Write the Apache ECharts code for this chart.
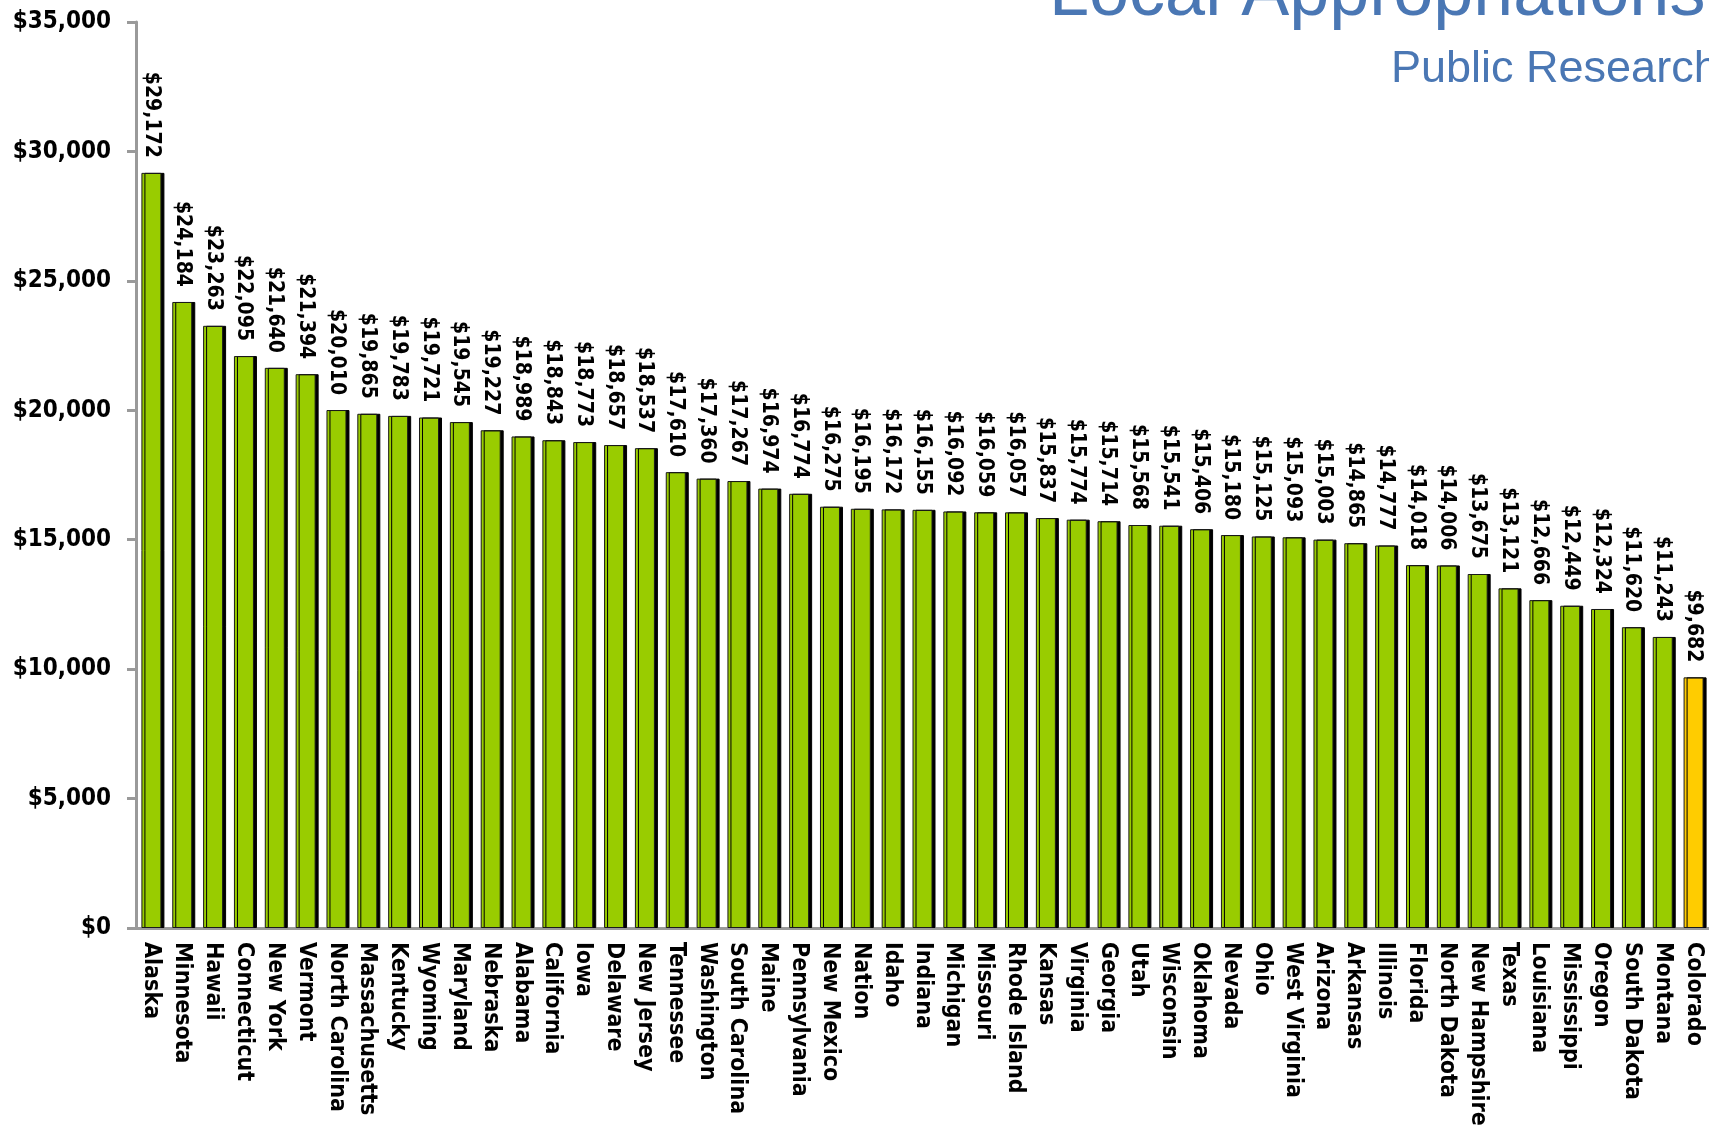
<!DOCTYPE html>
<html>
<head>
<meta charset="utf-8">
<script src="https://cdn.jsdelivr.net/npm/echarts@6/dist/echarts.min.js"></script>
<style>
  html, body { margin: 0; padding: 0; background: #fff; }
  #chart { width: 1709px; height: 1129px; }
</style>
</head>
<body>
<div id="chart"></div>
<script>
const states = ['Alaska', 'Minnesota', 'Hawaii', 'Connecticut', 'New York', 'Vermont', 'North Carolina',
  'Massachusetts', 'Kentucky', 'Wyoming', 'Maryland', 'Nebraska', 'Alabama', 'California', 'Iowa',
  'Delaware', 'New Jersey', 'Tennessee', 'Washington', 'South Carolina', 'Maine', 'Pennsylvania',
  'New Mexico', 'Nation', 'Idaho', 'Indiana', 'Michigan', 'Missouri', 'Rhode Island', 'Kansas',
  'Virginia', 'Georgia', 'Utah', 'Wisconsin', 'Oklahoma', 'Nevada', 'Ohio', 'West Virginia',
  'Arizona', 'Arkansas', 'Illinois', 'Florida', 'North Dakota', 'New Hampshire', 'Texas',
  'Louisiana', 'Mississippi', 'Oregon', 'South Dakota', 'Montana', 'Colorado']
const values = [29172, 24184, 23263, 22095, 21640, 21394, 20010,
  19865, 19783, 19721, 19545, 19227, 18989, 18843, 18773,
  18657, 18537, 17610, 17360, 17267, 16974, 16774,
  16275, 16195, 16172, 16155, 16092, 16059, 16057, 15837,
  15774, 15714, 15568, 15541, 15406, 15180, 15125, 15093,
  15003, 14865, 14777, 14018, 14006, 13675, 13121,
  12666, 12449, 12324, 11620, 11243, 9682]
const highlight = 'Colorado'

const green = '#99cc00'
const yellow = '#ffcc00'
const axisGray = '#9a9a9a'
const labelFont = "'DejaVu Sans Condensed', 'DejaVu Sans', sans-serif"

const money = v => '$' + v.toLocaleString('en-US')

let myChart = echarts.init(document.getElementById('chart'))
let option = {
  animation: false,
  title: [
    {
      text: 'Local Appropriations',
      left: 1044,
      top: -46,
      textStyle: { color: '#4a77b4', fontSize: 72, fontWeight: 'normal', fontFamily: "'Liberation Sans', sans-serif" }
    },
    {
      text: 'Public Research',
      left: 1386,
      top: 42,
      textStyle: { color: '#4a77b4', fontSize: 45, fontWeight: 'normal', fontFamily: "'Liberation Sans', sans-serif" }
    }
  ],
  grid: { left: 136, right: 0, top: 22, bottom: 201, containLabel: false },
  xAxis: {
    type: 'category',
    data: states,
    axisLine: { lineStyle: { color: axisGray, width: 3 } },
    axisTick: { length: 9, lineStyle: { color: axisGray, width: 3 } },
    axisLabel: {
      interval: 0,
      rotate: -90,
      margin: 14,
      color: '#000',
      fontSize: 23,
      fontWeight: 'bold',
      fontFamily: labelFont
    }
  },
  yAxis: {
    type: 'value',
    min: 0,
    max: 35000,
    interval: 5000,
    splitLine: { show: false },
    axisLine: { show: true, lineStyle: { color: axisGray, width: 3 } },
    axisTick: { show: true, length: 9, lineStyle: { color: axisGray, width: 3 } },
    axisLabel: {
      margin: 25,
      color: '#000',
      fontSize: 24,
      fontWeight: 'bold',
      fontFamily: labelFont,
      formatter: money
    }
  },
  series: [
    {
      type: 'bar',
      barWidth: 20,
      data: values.map((v, i) => ({
        value: v,
        itemStyle: { color: states[i] === highlight ? yellow : green }
      })),
      itemStyle: {
        borderColor: '#1a1a1a',
        borderWidth: 1,
        shadowColor: '#000',
        shadowBlur: 0,
        shadowOffsetX: 3,
        shadowOffsetY: 0
      },
      label: {
        show: true,
        position: 'top',
        rotate: -90,
        align: 'right',
        verticalAlign: 'middle',
        distance: 15,
        color: '#000',
        fontSize: 21,
        fontWeight: 'bold',
        fontFamily: labelFont,
        formatter: p => money(p.value)
      }
    }
  ]
}
option && myChart.setOption(option)
</script>
</body>
</html>
